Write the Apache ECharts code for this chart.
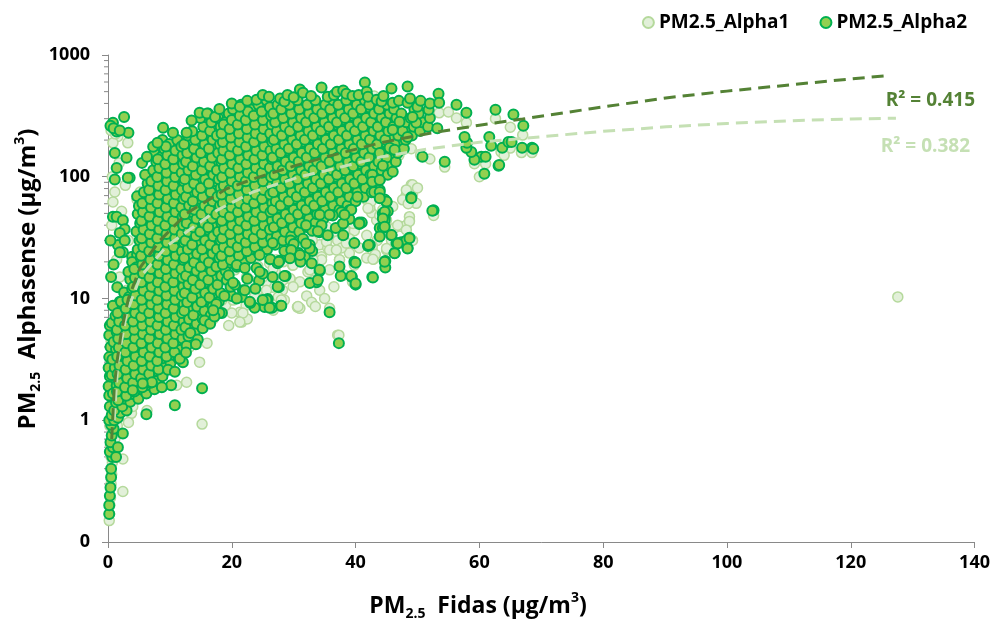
<!DOCTYPE html>
<html>
<head>
<meta charset="utf-8">
<title>PM2.5 Alphasense vs Fidas</title>
<script src="https://cdn.jsdelivr.net/npm/echarts@6.0.0/dist/echarts.min.js"></script>
<style>
  html, body { margin: 0; padding: 0; background: #fff; }
  #chart { width: 993px; height: 620px; }
</style>
</head>
<body>
<div id="chart"></div>
<script>
// names and labels
const seriesNames = ['PM2.5_Alpha1', 'PM2.5_Alpha2'];
const r2Labels = ['R\u00b2 = 0.382', 'R\u00b2 = 0.415'];
const xTicks = [0, 20, 40, 60, 80, 100, 120, 140];
const yTickValues = [0.1, 1, 10, 100, 1000];
const yTickLabels = ['0', '1', '10', '100', '1000'];

// PM2.5_Alpha2 (Fidas x, Alphasense y), region by region
const alpha2Strip = [[0.2,0.17],[0.2,0.2],[0.3,0.24],[0.4,0.28],[0.5,0.34],[0.5,0.4],[0.7,0.5],[0.3,0.55],[0.8,0.6],[0.4,0.66],[0.6,0.75],[1.6,0.6],[1.3,0.5],[0.9,0.85],[0.5,0.92],[0.2,1.0],[1.0,1.0],[0.6,1.1],[0.3,1.3],[2.4,0.78],[0.2,1.6],[0.1,1.9],[0.3,2.3],[0.1,2.7],[0.2,3.3],[0.4,4.0],[0.2,5.0],[0.3,6.0],[1.6,1.05],[2.0,1.15],[3.0,1.2]];
const alpha2Left = [[0.8,278],[1.4,235],[2.6,310],[3.3,230],[0.4,262],[0.9,250],[1.9,240],[1.1,157],[1.4,118],[1.1,95],[3.0,143],[3.5,98],[3.2,98],[0.8,47],[1.4,47],[2.4,44],[2.7,37],[1.9,34.5],[1.6,27.5],[2.4,24],[1.9,24],[2.7,30],[3.9,22],[4.4,18],[3.5,16.5],[1.5,12.4],[1.9,9.4],[4.7,23],[5.6,26.5],[0.5,15],[0.9,19],[0.4,30]];
const alpha2CoreLeft = [
[1.0,1.2],[1.3,1.4],[0.8,1.66],[1.4,1.93],[0.6,2.35],[1.1,2.7],[0.7,3.15],[1.3,3.85],[0.9,4.4],[1.4,5.3],[0.6,6.3],[1.2,7.2],[0.8,8.7],
[2.3,1.3],[2.6,1.5],[2.1,1.8],[2.7,2.1],[1.9,2.5],[2.4,2.95],[2.0,3.45],[2.6,4.1],[2.2,4.95],[2.8,5.7],[1.9,6.8],[2.5,7.9],[2.1,9.4],[2.6,11.2],
[3.6,1.42],[3.9,1.64],[3.4,1.97],[4.0,2.3],[3.2,2.72],[3.7,3.2],[3.3,3.75],[3.9,4.5],[3.5,5.35],[4.0,6.2],[3.2,7.3],[3.8,8.5],[3.4,10.3],[3.9,12],[3.6,14.3],[3.3,16.6],[3.9,19.9],
[4.9,1.5],[5.2,1.8],[4.7,2.1],[5.3,2.5],[4.5,2.95],[5.0,3.5],[4.6,4.1],[5.2,4.85],[4.8,5.8],[5.3,6.7],[4.5,8.0],[5.1,9.3],[4.7,11.2],[5.2,13],[4.9,15.5],[4.6,18.1],[5.3,21.6],[4.8,25.3],[5.1,30],[4.6,35.5],[5.2,41.5],[4.8,49.5],[5.0,57.5],[4.7,69],
[6.2,1.66],[6.5,1.95],[6.0,2.32],[6.6,2.7],[5.8,3.2],[6.3,3.8],[5.9,4.5],[6.5,5.25],[6.1,6.2],[6.6,7.35],[5.8,8.6],[6.4,10.1],[6.0,12.1],[6.5,14.2],[6.2,16.7],[5.9,19.8],[6.6,23.5],[6.1,27.5],[6.4,32.6],[5.9,38.3],[6.5,45.5],[6.1,53.3],[6.3,63.2],[5.8,74.5],[6.4,88],[6.0,104],
[7.5,1.8],[7.8,2.1],[7.3,2.52],[7.9,2.9],[7.1,3.5],[7.6,4.1],[7.2,4.9],[7.8,5.7],[7.4,6.8],[7.9,7.9],[7.1,9.4],[7.7,11.1],[7.3,13.1],[7.8,15.3],[7.5,18.3],[7.2,21.4],[7.9,25.5],[7.4,30.1],[7.7,35.2],[7.2,41.8],[7.8,49],[7.4,58.2],[7.6,68.3],[7.1,81.5],[7.7,95],[7.3,113],[7.8,133],[7.5,156],
[8.8,2.3],[9.1,2.72],[8.6,3.2],[9.2,3.78],[8.4,4.5],[8.9,5.3],[8.5,6.25],[9.1,7.3],[8.7,8.6],[9.2,10.2],[8.4,12.1],[9.0,14.1],[8.6,16.8],[9.1,19.7],[8.8,23.5],[8.5,27.5],[9.2,32.4],[8.7,38.5],[9.0,45.2],[8.5,53.6],[9.1,63],[8.7,74.8],[8.9,87.5],[8.4,104],[9.0,122],[8.6,145],[9.1,169],[8.8,200],
[10.1,2.95],[10.4,3.45],[9.9,4.1],[10.5,4.9],[9.7,5.75],[10.2,6.8],[9.8,7.9],[10.4,9.4],[10.0,11.1],[10.5,12.9],[9.7,15.4],[10.3,18.2],[9.9,21.6],[10.4,25.3],[10.1,30.2],[9.8,35.2],[10.5,41.5],[10.0,49.3],[10.3,58],[9.8,68.8],[10.4,80.5],[10.0,95.5],[10.2,113],[9.7,134],[10.3,157],[9.9,186],
[11.4,3.22],[11.7,3.8],[11.2,4.55],[11.8,5.3],[11.0,6.2],[11.5,7.3],[11.1,8.65],[11.7,10.2],[11.3,12],[11.8,14.3],[11.0,16.8],[11.6,19.7],[11.2,23.4],[11.7,27.7],[11.4,32.5],[11.1,38.3],[11.8,45.4],[11.3,53.4],[11.6,63.1],[11.1,74.4],[11.7,88.2],[11.3,104],[11.5,122],[11.0,144],[11.6,171],[11.2,200]
];
const alpha2CoreMid = [
[12.7,4.1],[13.0,4.9],[12.5,5.8],[13.1,6.75],[12.3,7.95],[12.8,9.3],[12.4,11.1],[13.0,13.1],[12.6,15.4],[13.1,18.1],[12.3,21.5],[12.9,25.4],[12.5,30],[13.0,35.4],[12.7,41.6],[12.4,49.2],[13.1,58.1],[12.6,68.4],[12.9,81],[12.4,95.6],[13.0,113],[12.6,133],[12.8,157],[12.3,185],[12.9,218],
[14.0,5.3],[14.3,6.2],[13.8,7.3],[14.4,8.6],[13.6,10.2],[14.1,12],[13.7,14.2],[14.3,16.9],[13.9,19.8],[14.4,23.3],[13.6,27.6],[14.2,32.6],[13.8,38.4],[14.3,45.2],[14.0,53.5],[13.7,63],[14.4,74.6],[13.9,88],[14.2,104],[13.7,122],[14.3,144],[13.9,170],[14.1,201],[13.6,236],
[15.3,6.8],[15.6,7.9],[15.1,9.35],[15.7,11.1],[14.9,13],[15.4,15.4],[15.0,18.2],[15.6,21.5],[15.2,25.4],[15.7,30],[14.9,35.3],[15.5,41.7],[15.1,49.2],[15.6,58],[15.3,68.5],[15.0,81],[15.7,95.5],[15.2,113],[15.5,133],[15.0,157],[15.6,185],[15.2,218],[15.4,257],[14.9,304],
[16.6,7.3],[16.9,8.6],[16.4,10.2],[17.0,12],[16.2,14.2],[16.7,16.8],[16.3,19.8],[16.9,23.4],[16.5,27.6],[17.0,32.5],[16.2,38.4],[16.8,45.3],[16.4,53.5],[16.9,63],[16.6,74.5],[16.3,88],[17.0,104],[16.5,122],[16.8,144],[16.3,170],[16.9,201],[16.5,237],[16.7,280],[16.2,330],
[17.9,9.4],[18.2,11.1],[17.7,13],[18.3,15.4],[17.5,18.2],[18.0,21.5],[17.6,25.4],[18.2,30],[17.8,35.3],[18.3,41.7],[17.5,49.2],[18.1,58],[17.7,68.5],[18.2,81],[17.9,95.5],[17.6,113],[18.3,133],[17.8,157],[18.1,185],[17.6,218],[18.2,257],[17.8,304],
[19.0,16.8],[19.6,19.8],[18.8,23.4],[19.3,27.6],[18.9,32.5],[19.5,38.4],[19.1,45.3],[19.6,53.5],[18.8,63],[19.4,74.5],[19.0,88],[19.5,104],[19.2,122],[18.9,144],[19.6,170],[19.1,201],[19.4,237],[18.9,280],[19.5,330],
[20.8,18.2],[20.3,21.5],[20.9,25.4],[20.1,30],[20.6,35.3],[20.2,41.7],[20.8,49.2],[20.4,58],[20.9,68.5],[20.1,81],[20.7,95.5],[20.3,113],[20.8,133],[20.5,157],[20.2,185],[20.9,218],[20.4,257],[20.7,304],[20.2,358],
[22.1,19.8],[21.6,23.4],[22.2,27.6],[21.4,32.5],[21.9,38.4],[21.5,45.3],[22.1,53.5],[21.7,63],[22.2,74.5],[21.4,88],[22.0,104],[21.6,122],[22.1,144],[21.8,170],[21.5,201],[22.2,237],[21.7,280],[22.0,330],[21.5,390],
[23.1,21.5],[23.4,25.4],[22.9,30],[23.5,35.3],[22.7,41.7],[23.2,49.2],[22.8,58],[23.4,68.5],[23.0,81],[23.5,95.5],[22.7,113],[23.3,133],[22.9,157],[23.4,185],[23.1,218],[22.8,257],[23.5,304],[23.0,358],
[24.4,23.4],[24.7,27.6],[24.2,32.5],[24.8,38.4],[24.0,45.3],[24.5,53.5],[24.1,63],[24.7,74.5],[24.3,88],[24.8,104],[24.0,122],[24.6,144],[24.2,170],[24.7,201],[24.4,237],[24.1,280],[24.8,330],[24.3,390],
[25.7,25.4],[26.0,30],[25.5,35.3],[26.1,41.7],[25.3,49.2],[25.8,58],[25.4,68.5],[26.0,81],[25.6,95.5],[26.1,113],[25.3,133],[25.9,157],[25.5,185],[26.0,218],[25.7,257],[25.4,304],[26.1,358],[25.6,424]
];
const alpha2CoreRight = [
[27.0,27.6],[27.3,32.5],[26.8,38.4],[27.4,45.3],[26.6,53.5],[27.1,63],[26.7,74.5],[27.3,88],[26.9,104],[27.4,122],[26.6,144],[27.2,170],[26.8,201],[27.3,237],[27.0,280],[26.7,330],[27.4,390],
[28.3,30],[28.6,35.3],[28.1,41.7],[28.7,49.2],[27.9,58],[28.4,68.5],[28.0,81],[28.6,95.5],[28.2,113],[28.7,133],[27.9,157],[28.5,185],[28.1,218],[28.6,257],[28.3,304],[28.0,358],[28.7,424],
[29.6,32.5],[29.9,38.4],[29.4,45.3],[30.0,53.5],[29.2,63],[29.7,74.5],[29.3,88],[29.9,104],[29.5,122],[30.0,144],[29.2,170],[29.8,201],[29.4,237],[29.9,280],[29.6,330],[29.3,390],
[30.9,35.3],[31.2,41.7],[30.7,49.2],[31.3,58],[30.5,68.5],[31.0,81],[30.6,95.5],[31.2,113],[30.8,133],[31.3,157],[30.5,185],[31.1,218],[30.7,257],[31.2,304],[30.9,358],[30.6,424],
[32.2,38.4],[32.5,45.3],[32.0,53.5],[32.6,63],[31.8,74.5],[32.3,88],[31.9,104],[32.5,122],[32.1,144],[32.6,170],[31.8,201],[32.4,237],[32.0,280],[32.5,330],[32.2,390],
[33.5,41.7],[33.8,49.2],[33.3,58],[33.9,68.5],[33.1,81],[33.6,95.5],[33.2,113],[33.8,133],[33.4,157],[33.9,185],[33.1,218],[33.7,257],[33.3,304],[33.8,358],[33.5,424],
[34.8,45.3],[35.1,53.5],[34.6,63],[35.2,74.5],[34.4,88],[34.9,104],[34.5,122],[35.1,144],[34.7,170],[35.2,201],[34.4,237],[35.0,280],[34.6,330],[35.1,390],
[36.1,49.2],[36.4,58],[35.9,68.5],[36.5,81],[35.7,95.5],[36.2,113],[35.8,133],[36.4,157],[36.0,185],[36.5,218],[35.7,257],[36.3,304],[35.9,358],[36.4,424],
[37.4,53.5],[37.7,63],[37.2,74.5],[37.8,88],[37.0,104],[37.5,122],[37.1,144],[37.7,170],[37.3,201],[37.8,237],[37.0,280],[37.6,330],[37.2,390],
[38.7,58],[39.0,68.5],[38.5,81],[39.1,95.5],[38.3,113],[38.8,133],[38.4,157],[39.0,185],[38.6,218],[39.1,257],[38.3,304],[38.9,358],[38.5,424],
[40.0,63],[40.3,74.5],[39.8,88],[40.4,104],[39.6,122],[40.1,144],[39.7,170],[40.3,201],[39.9,237],[40.4,280],[39.6,330],[40.2,390],
[41.3,68.5],[41.6,81],[41.1,95.5],[41.7,113],[40.9,133],[41.4,157],[41.0,185],[41.6,218],[41.2,257],[41.7,304],[40.9,358],[41.5,424],
[42.6,74.5],[42.9,88],[42.4,104],[43.0,122],[42.2,144],[42.7,170],[42.3,201],[42.9,237],[42.5,280],[43.0,330],[42.2,390],
[43.9,95.5],[44.2,113],[43.7,133],[44.3,157],[43.5,185],[44.0,218],[43.6,257],[44.2,304],[43.8,358],
[45.2,104],[45.5,122],[45.0,144],[45.6,170],[44.8,201],[45.3,237],[44.9,280],[45.5,330],[45.1,390],
[46.5,133],[46.8,157],[46.3,185],[46.9,218],[46.1,257],[46.6,304],[46.2,358],
[47.8,170],[48.1,201],[47.6,237],[48.2,280],[47.4,330],
[49.1,218],[49.4,257],[48.9,304],[49.5,358],
[50.4,237],[50.7,280],[50.2,330],
[51.7,257],[52.0,304]
];
const alpha2MidLeft = [
[1.65,1.46],[1.45,1.72],[1.8,2.03],[1.55,2.4],[1.85,2.82],[1.5,3.34],[1.75,3.96],[1.65,4.69],[1.45,5.53],[1.8,6.47],[1.55,7.61],
[2.95,1.59],[2.75,1.87],[3.1,2.21],[2.85,2.61],[3.15,3.06],[2.8,3.62],[3.05,4.28],[2.95,5.11],[2.75,6.0],[3.1,7.04],[2.85,8.29],[3.15,9.75],
[4.25,1.72],[4.05,2.03],[4.4,2.4],[4.15,2.82],[4.45,3.34],[4.1,3.96],[4.35,4.69],[4.25,5.53],[4.05,6.47],[4.4,7.61],[4.15,8.97],[4.45,10.6],[4.1,12.5],[4.35,14.8],[4.25,17.5],
[5.55,1.87],[5.35,2.21],[5.7,2.61],[5.45,3.06],[5.75,3.62],[5.4,4.28],[5.65,5.11],[5.55,6.0],[5.35,7.04],[5.7,8.29],[5.45,9.75],[5.75,11.6],[5.4,13.6],[5.65,16.1],[5.55,19],[5.35,22.4],[5.7,26.5],[5.45,31.3],[5.75,36.8],[5.4,43.5],[5.65,51.3],[5.55,60.5],
[6.85,2.03],[6.65,2.4],[7.0,2.82],[6.75,3.34],[7.05,3.96],[6.7,4.69],[6.95,5.53],[6.85,6.47],[6.65,7.61],[7.0,8.97],[6.75,10.6],[7.05,12.5],[6.7,14.8],[6.95,17.5],[6.85,20.7],[6.65,24.4],[7.0,28.8],[6.75,33.9],[7.05,40],[6.7,47.2],[6.95,55.8],[6.85,65.7],[6.65,77.7],[7.0,91.8],
[8.15,2.61],[7.95,3.06],[8.3,3.62],[8.05,4.28],[8.35,5.11],[8.0,6.0],[8.25,7.04],[8.15,8.29],[7.95,9.75],[8.3,11.6],[8.05,13.6],[8.35,16.1],[8.0,19],[8.25,22.4],[8.15,26.5],[7.95,31.3],[8.3,36.8],[8.05,43.5],[8.35,51.3],[8.0,60.5],[8.25,71.4],[8.15,84.5],[7.95,99.6],[8.3,118],[8.05,139],
[9.45,3.34],[9.25,3.96],[9.6,4.69],[9.35,5.53],[9.65,6.47],[9.3,7.61],[9.55,8.97],[9.45,10.6],[9.25,12.5],[9.6,14.8],[9.35,17.5],[9.65,20.7],[9.3,24.4],[9.55,28.8],[9.45,33.9],[9.25,40],[9.6,47.2],[9.35,55.8],[9.65,65.7],[9.3,77.7],[9.55,91.8],[9.45,108],[9.25,127],[9.6,150],[9.35,177],
[10.75,3.62],[10.55,4.28],[10.9,5.11],[10.65,6.0],[10.95,7.04],[10.6,8.29],[10.85,9.75],[10.75,11.6],[10.55,13.6],[10.9,16.1],[10.65,19],[10.95,22.4],[10.6,26.5],[10.85,31.3],[10.75,36.8],[10.55,43.5],[10.9,51.3],[10.65,60.5],[10.95,71.4],[10.6,84.5],[10.85,99.6],[10.75,118],[10.55,139],[10.9,164],
[12.05,4.69],[11.85,5.53],[12.2,6.47],[11.95,7.61],[12.25,8.97],[11.9,10.6],[12.15,12.5],[12.05,14.8],[11.85,17.5],[12.2,20.7],[11.95,24.4],[12.25,28.8],[11.9,33.9],[12.15,40],[12.05,47.2],[11.85,55.8],[12.2,65.7],[11.95,77.7],[12.25,91.8],[11.9,108],[12.15,127],[12.05,150],[11.85,177],
[13.35,6.0],[13.15,7.04],[13.5,8.29],[13.25,9.75],[13.55,11.6],[13.2,13.6],[13.45,16.1],[13.35,19],[13.15,22.4],[13.5,26.5],[13.25,31.3],[13.55,36.8],[13.2,43.5],[13.45,51.3],[13.35,60.5],[13.15,71.4],[13.5,84.5],[13.25,99.6],[13.55,118],[13.2,139],[13.45,164],[13.35,193],
[14.65,7.61],[14.45,8.97],[14.8,10.6],[14.55,12.5],[14.85,14.8],[14.5,17.5],[14.75,20.7],[14.65,24.4],[14.45,28.8],[14.8,33.9],[14.55,40],[14.85,47.2],[14.5,55.8],[14.75,65.7],[14.65,77.7],[14.45,91.8],[14.8,108],[14.55,127],[14.85,150],[14.5,177],[14.75,210],
[15.95,8.29],[15.75,9.75],[16.1,11.6],[15.85,13.6],[16.15,16.1],[15.8,19],[16.05,22.4],[15.95,26.5],[15.75,31.3],[16.1,36.8],[15.85,43.5],[16.15,51.3],[15.8,60.5],[16.05,71.4],[15.95,84.5],[15.75,99.6],[16.1,118],[15.85,139],[16.15,164],[15.8,193],[16.05,227],[15.95,268],
[17.25,10.6],[17.05,12.5],[17.4,14.8],[17.15,17.5],[17.45,20.7],[17.1,24.4],[17.35,28.8],[17.25,33.9],[17.05,40],[17.4,47.2],[17.15,55.8],[17.45,65.7],[17.1,77.7],[17.35,91.8],[17.25,108],[17.05,127],[17.4,150],[17.15,177],[17.45,210],[17.1,247],[17.35,292]
];
const alpha2MidRight = [
[18.55,19],[18.35,22.4],[18.7,26.5],[18.45,31.3],[18.75,36.8],[18.4,43.5],[18.65,51.3],[18.55,60.5],[18.35,71.4],[18.7,84.5],[18.45,99.6],[18.75,118],[18.4,139],[18.65,164],[18.55,193],[18.35,227],[18.7,268],
[19.85,20.7],[19.65,24.4],[20.0,28.8],[19.75,33.9],[20.05,40],[19.7,47.2],[19.95,55.8],[19.85,65.7],[19.65,77.7],[20.0,91.8],[19.75,108],[20.05,127],[19.7,150],[19.95,177],[19.85,210],[19.65,247],[20.0,292],
[21.15,22.4],[20.95,26.5],[21.3,31.3],[21.05,36.8],[21.35,43.5],[21.0,51.3],[21.25,60.5],[21.15,71.4],[20.95,84.5],[21.3,99.6],[21.05,118],[21.35,139],[21.0,164],[21.25,193],[21.15,227],[20.95,268],[21.3,317],
[22.45,24.4],[22.25,28.8],[22.6,33.9],[22.35,40],[22.65,47.2],[22.3,55.8],[22.55,65.7],[22.45,77.7],[22.25,91.8],[22.6,108],[22.35,127],[22.65,150],[22.3,177],[22.55,210],[22.45,247],[22.25,292],[22.6,344],
[23.75,26.5],[23.55,31.3],[23.9,36.8],[23.65,43.5],[23.95,51.3],[23.6,60.5],[23.85,71.4],[23.75,84.5],[23.55,99.6],[23.9,118],[23.65,139],[23.95,164],[23.6,193],[23.85,227],[23.75,268],[23.55,317],
[25.05,28.8],[24.85,33.9],[25.2,40],[24.95,47.2],[25.25,55.8],[24.9,65.7],[25.15,77.7],[25.05,91.8],[24.85,108],[25.2,127],[24.95,150],[25.25,177],[24.9,210],[25.15,247],[25.05,292],[24.85,344],
[26.35,31.3],[26.15,36.8],[26.5,43.5],[26.25,51.3],[26.55,60.5],[26.2,71.4],[26.45,84.5],[26.35,99.6],[26.15,118],[26.5,139],[26.25,164],[26.55,193],[26.2,227],[26.45,268],[26.35,317],[26.15,373],
[27.65,33.9],[27.45,40],[27.8,47.2],[27.55,55.8],[27.85,65.7],[27.5,77.7],[27.75,91.8],[27.65,108],[27.45,127],[27.8,150],[27.55,177],[27.85,210],[27.5,247],[27.75,292],[27.65,344],
[28.95,36.8],[28.75,43.5],[29.1,51.3],[28.85,60.5],[29.15,71.4],[28.8,84.5],[29.05,99.6],[28.95,118],[28.75,139],[29.1,164],[28.85,193],[29.15,227],[28.8,268],[29.05,317],[28.95,373],
[30.25,40],[30.05,47.2],[30.4,55.8],[30.15,65.7],[30.45,77.7],[30.1,91.8],[30.35,108],[30.25,127],[30.05,150],[30.4,177],[30.15,210],[30.45,247],[30.1,292],[30.35,344],
[31.55,43.5],[31.35,51.3],[31.7,60.5],[31.45,71.4],[31.75,84.5],[31.4,99.6],[31.65,118],[31.55,139],[31.35,164],[31.7,193],[31.45,227],[31.75,268],[31.4,317],[31.65,373],
[32.85,47.2],[32.65,55.8],[33.0,65.7],[32.75,77.7],[33.05,91.8],[32.7,108],[32.95,127],[32.85,150],[32.65,177],[33.0,210],[32.75,247],[33.05,292],[32.7,344],
[34.15,51.3],[33.95,60.5],[34.3,71.4],[34.05,84.5],[34.35,99.6],[34.0,118],[34.25,139],[34.15,164],[33.95,193],[34.3,227],[34.05,268],[34.35,317],[34.0,373],
[35.45,55.8],[35.25,65.7],[35.6,77.7],[35.35,91.8],[35.65,108],[35.3,127],[35.55,150],[35.45,177],[35.25,210],[35.6,247],[35.35,292],[35.65,344],
[36.75,60.5],[36.55,71.4],[36.9,84.5],[36.65,99.6],[36.95,118],[36.6,139],[36.85,164],[36.75,193],[36.55,227],[36.9,268],[36.65,317],[36.95,373],
[38.05,65.7],[37.85,77.7],[38.2,91.8],[37.95,108],[38.25,127],[37.9,150],[38.15,177],[38.05,210],[37.85,247],[38.2,292],[37.95,344],
[39.35,71.4],[39.15,84.5],[39.5,99.6],[39.25,118],[39.55,139],[39.2,164],[39.45,193],[39.35,227],[39.15,268],[39.5,317],[39.25,373],
[40.65,77.7],[40.45,91.8],[40.8,108],[40.55,127],[40.85,150],[40.5,177],[40.75,210],[40.65,247],[40.45,292],[40.8,344],
[41.95,84.5],[41.75,99.6],[42.1,118],[41.85,139],[42.15,164],[41.8,193],[42.05,227],[41.95,268],[41.75,317],[42.1,373],
[43.25,108],[43.05,127],[43.4,150],[43.15,177],[43.45,210],[43.1,247],[43.35,292],[43.25,344],
[44.55,118],[44.35,139],[44.7,164],[44.45,193],[44.75,227],[44.4,268],[44.65,317],
[45.85,150],[45.65,177],[46.0,210],[45.75,247],[46.05,292],[45.7,344],
[47.15,193],[46.95,227],[47.3,268],[47.05,317],
[48.45,247],[48.25,292],[49.75,268],[49.55,317]
];
const alpha2Top = [[5.5,130],[6.3,146],[7.3,176],[8.0,190],[8.9,253],[10.5,230],[12.7,230],[13.5,290],[14.8,335],[16.0,330],[17.3,310],[18.0,360],[20.0,400],[21.3,375],[22.5,420],[24.0,430],[25.0,470],[26.0,455],[27.8,440],[28.5,415],[29.0,470],[30.0,450],[31.0,520],[31.5,490],[32.8,460],[34.5,540],[35.5,455],[36.5,470],[37.0,500],[38.0,510],[38.5,480],[39.5,460],[40.5,470],[41.5,594],[41.8,500],[42.0,455],[43.4,430],[44.2,415],[44.5,460],[45.8,530],[46.0,405],[47.0,420],[48.4,550],[48.4,405],[48.8,440],[50.0,375],[50.5,420],[51.8,355],[52.0,400],[53.4,480],[53.5,405],[56.3,390],[57.9,335],[62.6,355],[65.5,325],[67.1,262],[53.2,250],[49.8,278],[49.2,310],[47.1,283],[48.4,212],[46.0,243]];
const alpha2Right = [[68.5,173],[66.9,173],[63.7,173],[64.7,193],[61.6,212],[61.9,180],[63.1,123],[60.8,106],[60.3,146],[61.0,146],[59.2,138],[58.7,160],[57.9,173],[58.0,190],[57.6,212],[54.4,133],[50.8,146],[63.2,125],[65.2,193],[68.7,170],[45.5,173],[43.9,157],[46.3,167],[44.4,123],[46.0,110],[42.7,104],[42.7,91],[43.9,94],[43.9,78],[43.0,75],[49.0,68],[52.6,53],[52.4,52.5],[44.7,65],[45.2,52],[44.4,50],[44.7,46],[43.9,38],[45.8,33],[47.4,29],[48.7,31.5],[48.4,26],[46.3,23.6],[42.3,27.5],[41.0,42],[40.6,42],[45.0,62],[44.7,51],[43.9,75]];
const alpha2Fringe = [[40.6,41],[38.6,46],[37.9,41],[39.0,45],[39.0,53],[37.7,51],[36.3,48],[34.2,35],[32.6,27.5],[33.0,24.5],[31.8,22],[32.9,19.5],[34.2,16.8],[33.7,13.6],[32.6,13.4],[30.8,23.6],[31.1,20],[29.7,26],[28.7,15.3],[27.4,19.5],[27.6,12.4],[26.6,15],[25.8,9.9],[26.5,8.4],[27.9,8.7],[25.3,8.5],[23.7,8.4],[23.0,9.2],[21.8,11.7],[21.6,10.3],[20.0,10.5],[18.4,7.6],[19.2,14.2],[20.8,18.8],[22.1,17.8],[24.4,14],[24.0,17.8],[24.5,22.8],[26.6,28.6],[27.7,20.4],[29.5,30],[39.8,28.5],[39.8,20],[39.4,15],[40.0,13],[37.6,15.3],[35.8,7.7],[37.3,4.3],[42.0,27],[44.8,20.3],[44.8,18],[42.7,15],[48.2,30],[46.6,28.5],[44.4,38],[44.7,44],[28.0,8.7],[25.6,9.7],[6.2,1.12],[10.8,1.33],[15.2,1.83],[12.1,3.0],[11.6,3.2],[12.6,3.6],[9.7,2.6],[10.2,1.94],[8.7,1.87],[7.1,2.05],[5.6,2.0],[4.0,1.76],[10.8,2.5],[15.3,5.7],[15.6,6.6],[18.0,7.6],[13.3,5.2],[16.5,6.2],[14.5,4.6],[17.2,7.1],[18.8,10.5],[17.5,9.0],[19.8,12.5],[22.5,14.5],[23.8,12.0],[25.0,16.0],[26.2,21.0],[28.5,24.5],[30.0,28.0],[31.5,31.0],[33.0,36.0],[34.5,40.0],[35.5,33.0],[36.8,38.0],[38.0,33.0],[20.5,13.0],[17.0,8.0],[14.2,4.2],
[49.0,66.7],[45.0,62.6],[44.7,51.5],[44.4,45.5],[44.7,38.9],[45.8,33.2],[43.9,32.3],[46.8,28.3],[48.4,25.8],[48.7,31.2],[46.3,23.5],[44.7,20],[42.8,14.9],[42.1,27.5],[40.0,19.7],[39.3,15.3],[40.0,13.3],[40.6,41.4],[38.0,41.4],[39.3,53.5],[38.2,48.7],[37.4,18.3],[32.6,25.8],[31.0,22.8],[34.2,17.2],[33.9,14.2],[27.6,20],[27.4,12.5],[28.5,15.3],[24.5,16.6],[22.1,11.7],[22.9,9.4],[25.0,9.7],[26.1,8.4],[20.8,10],[29.6,25],[29.4,21.4],[32.0,28.3],[34.2,48.7],[35.8,48.7],[32.0,40],[33.9,35.6],[40.3,68.5],[43.9,66.7],[19.5,15.5],[20.2,13.5]];

// PM2.5_Alpha1
const alpha1Strip = [[0.2,0.15],[0.25,0.17],[0.3,0.2],[0.4,0.23],[0.5,0.3],[0.6,0.36],[0.7,0.45],[0.5,0.5],[0.9,0.55],[0.4,0.62],[1.1,0.7],[0.8,0.8],[2.4,0.26],[2.4,0.48],[1.5,0.9],[0.3,0.9],[1.8,1.1],[0.6,1.2],[2.7,1.38],[3.8,1.14],[3.3,0.96],[6.3,1.2],[4.0,1.3],[1.2,1.5],[0.4,1.8],[2.2,2.0],[0.9,2.6],[1.5,3.5],[0.5,4.5],[2.0,6.0]];
const alpha1Left = [[1.1,75],[0.8,62],[1.6,214],[3.2,190],[0.8,190],[0.5,240],[1.2,225],[5.2,75],[4.7,65],[1.4,20.8],[1.9,15],[3.0,11.7],[0.6,40],[2.2,52],[3.3,30],[2.8,85],[1.8,130],[0.7,100]];
const alpha1Lower = [[31.0,20.8],[34.2,27.6],[36.3,36.6],[37.9,29.2],[39.0,23.6],[41.8,33],[42.7,25],[42.9,21],[43.4,44],[42.6,50.6],[41.8,64.6],[48.7,44],[47.4,39],[48.2,71],[49.0,86],[45.0,25],[37.4,20.8],[35.8,17.2],[30.6,8.5],[21.3,7.7],[21.6,6.4],[20.0,7.6],[24.5,11],[28.2,11.7],[32.3,16.5],[37.1,5.0],[29.4,22],[26.1,19.5],[22.9,14.2],[26.6,12.4],[28.2,15],[41.8,21.5],[39.8,18.8],[38.2,15.6],[39.5,13.7],[34.2,11.7],[32.1,10.5],[33.4,14.2],[30.3,13.4],[25.2,9.7],[23.7,10.7],[28.5,9.7],[22.3,8.8],[19.0,8.8],[18.4,9.7],[31.0,8.3],[32.9,9.3],[25.8,15.3],[24.2,18.5],[29.8,18.8],[34.5,22],[40.6,26],[45.8,30],[46.3,38],[44.7,35],[18.0,11],[20.2,9.7],[25.5,10.5],[27.5,10.3],[16.0,4.3],[14.8,3.0],[15.2,0.93],[12.7,2.05],[11.1,1.94],[12.9,5.0],[13.2,4.0],[35.8,8.3],[37.3,5.0],[27.0,17.0],[30.5,25.0],[33.0,30.0],[35.5,26.0],[38.5,36.0],[40.0,40.0],[43.5,30.0],[36.5,12.5],[35.0,10.0],[33.5,8.6],[23.0,12.5],[21.0,11.0],[17.0,6.8],[19.5,6.0],[22.5,6.8],[42.3,55.6],[43.9,48],[48.7,47],[48.2,40],[39.8,36],[39.0,31],[37.1,30],[37.7,26],[42.7,27],[43.2,23],[52.6,48],
[42.5,62.6],[42.0,55],[45.0,44],[46.8,40],[48.7,43],[48.2,36.6],[49.2,30],[45.0,25.8],[42.8,21],[39.6,41.4],[38.2,36.6],[36.6,35.6],[35.3,39],[34.7,44],[35.3,29.3],[38.5,28.5],[35.8,25],[36.9,25],[37.4,20.8],[34.5,20.8],[33.1,20.8],[31.2,22.8],[30.4,27.5],[31.0,32.3],[29.9,18.8],[28.3,20],[27.2,20.8],[26.7,17.7],[29.4,14.6],[31.0,13.7],[29.9,12.5],[28.3,14.2],[25.6,13.7],[25.6,11.7],[25.0,15],[22.9,12.9],[22.4,15],[23.7,10.4],[25.9,9.4],[28.0,9.7],[30.7,8.6],[26.7,8],[21.8,7.6],[21.3,6.4],[20.2,11.7],[19.7,20.8],[20.5,17.2],[32.6,17.2],[44.4,53.5],[46.0,57],[49.2,71],[49.8,60.5],[47.6,64.6]];
const alpha1Right = [[49.2,86],[50.0,81],[48.2,78],[56.3,304],[57.9,278],[62.6,300],[65.0,255],[67.0,220],[66.8,158],[60.5,140],[59.2,128],[61.0,128],[54.4,120],[52.0,140],[53.4,420],[53.5,335],[50.5,150],[47.0,175],[63.5,160],[65.0,172],[68.5,158],[60.0,100],[58.0,170],[45.5,155],[43.5,88],[37.0,430],[38.0,440],[43.0,460],[21.0,320],[25.5,370],[28.5,380],[51.5,320],[55.0,340],[64.0,150],[48.5,60]];
const alpha1Under = [[5,3],[6,8],[7,20],[8,45],[9,90],[10,5],[11,15],[12,35],[13,70],[14,140],[15,10],[16,25],[17,60],[18,120],[19,220],[20,18],[21,40],[22,90],[23,180],[24,300],[25,30],[26,65],[27,130],[28,250],[29,45],[30,100],[31,200],[32,350],[33,60],[34,120],[35,250],[36,80],[37,160],[38,320],[39,110],[40,220],[41,380],[42,150],[43,280],[44,120],[45,200],[46,330],[47,150],[48,260],[49,170],[3,5],[4,12],[2,3],[1.5,2],[7,60],[9,150],[12,180],[16,200],[20,260],[26,330],[31,400]];
const alpha1Outlier = [[127.6,10.3]];

// trend lines, sampled along the dashed curves
const trend1X = [1.0, 1.6, 3.0, 5.2, 9.5, 17.6, 23.4, 31.0, 35.8, 44, 52, 60, 70.8, 80, 90.2, 100, 111.6, 120, 127.3];
const trend1Y = [1.0, 3.0, 7.6, 15, 27, 53, 75, 100, 114, 145, 170, 192, 215, 236, 257, 274, 290, 298, 303];
const trend2X = [0.6, 1.0, 1.4, 2.2, 3.3, 5.2, 8.4, 12.7, 19.2, 24, 30.4, 35.8, 44, 52, 60, 67, 78, 90.1, 100, 108.9, 117, 126.1];
const trend2Y = [0.7, 1.8, 2.9, 5.5, 10, 18, 30, 50, 80, 98, 124, 148, 190, 228, 265, 298, 362, 444, 505, 560, 615, 678];

const FONT = "'Open Sans', 'Liberation Sans', sans-serif";
const AXIS_COLOR = '#898989';

const alpha1Data = [].concat(alpha1Under, alpha1Strip, alpha1Left, alpha1Lower, alpha1Right, alpha1Outlier);
const alpha2Data = [].concat(alpha2Strip, alpha2Left, alpha2CoreLeft, alpha2MidLeft, alpha2CoreMid, alpha2MidRight, alpha2CoreRight, alpha2Top, alpha2Right, alpha2Fringe);

// log minor ticks 2..9 in each decade
const minorTickValues = [];
[0.1, 1, 10, 100].forEach(d => {
  for (let k = 2; k <= 9; k++) minorTickValues.push(+(d * k).toPrecision(3));
});

function titleRich(size) {
  return {
    b: { fontFamily: FONT, fontWeight: 'bold', fontSize: size, lineHeight: 30, color: '#000' },
    sub: { fontFamily: FONT, fontWeight: 'bold', fontSize: 14, lineHeight: 14, verticalAlign: 'bottom', color: '#000' },
    sup: { fontFamily: FONT, fontWeight: 'bold', fontSize: 14, lineHeight: 14, verticalAlign: 'top', color: '#000' }
  };
}

let chart = echarts.init(document.getElementById('chart'));

let option = {
  animation: false,
  backgroundColor: '#fff',
  textStyle: { fontFamily: FONT },
  grid: { left: 108, right: 17, top: 55, bottom: 78, containLabel: false },
  legend: {
    data: seriesNames,
    top: 8,
    right: 21,
    itemGap: 30,
    itemWidth: 11,
    itemHeight: 11,
    icon: 'circle',
    textStyle: { fontFamily: FONT, fontWeight: 'bold', fontSize: 19, color: '#000' }
  },
  xAxis: {
    type: 'value',
    min: xTicks[0],
    max: xTicks[xTicks.length - 1],
    interval: xTicks[1] - xTicks[0],
    axisLine: { onZero: false, lineStyle: { color: AXIS_COLOR, width: 1 } },
    axisTick: { show: true, length: 6, lineStyle: { color: AXIS_COLOR } },
    axisLabel: { fontFamily: FONT, fontSize: 18, fontWeight: 'bold', color: '#000', margin: 12 },
    splitLine: { show: false }
  },
  yAxis: {
    type: 'log',
    logBase: 10,
    min: yTickValues[0],
    max: yTickValues[yTickValues.length - 1],
    axisLine: { show: true, lineStyle: { color: AXIS_COLOR, width: 1 } },
    axisTick: { show: true, length: 6, lineStyle: { color: AXIS_COLOR } },
    axisLabel: {
      fontFamily: FONT, fontSize: 18, fontWeight: 'bold', color: '#000', margin: 18,
      formatter: function (v) {
        let i = yTickValues.findIndex(t => Math.abs(Math.log10(t) - Math.log10(v)) < 1e-6);
        return i >= 0 ? yTickLabels[i] : '';
      }
    },
    splitLine: { show: false }
  },
  graphic: [
    {
      type: 'text', x: 478, y: 606,
      style: {
        text: '{b|PM}{sub|2.5}{b|  Fidas (\u00b5g/m}{sup|3}{b|)}',
        rich: titleRich(23), align: 'center', verticalAlign: 'middle'
      }
    },
    {
      type: 'text', x: 28, y: 279, rotation: Math.PI / 2,
      style: {
        text: '{b|PM}{sub|2.5}{b|  Alphasense (\u00b5g/m}{sup|3}{b|)}',
        rich: titleRich(24), align: 'center', verticalAlign: 'middle'
      }
    },
    {
      type: 'text', x: 975, y: 101,
      style: { text: r2Labels[1], fill: '#548235', font: 'bold 19px ' + FONT, align: 'right', verticalAlign: 'middle' }
    },
    {
      type: 'text', x: 970, y: 147,
      style: { text: r2Labels[0], fill: '#C5E0B4', font: 'bold 19px ' + FONT, align: 'right', verticalAlign: 'middle' }
    }
  ],
  series: [
    {
      type: 'custom',
      silent: true,
      clip: false,
      data: minorTickValues.map(v => [0, v]),
      renderItem: function (params, api) {
        let p = api.coord([0, api.value(1)]);
        return {
          type: 'line',
          shape: { x1: p[0] - 4, y1: p[1], x2: p[0], y2: p[1] },
          style: { stroke: AXIS_COLOR, lineWidth: 1 }
        };
      },
      z: 1
    },
    {
      name: seriesNames[0],
      type: 'scatter',
      data: alpha1Data,
      symbolSize: 10,
      itemStyle: { color: '#E2F0D9', borderColor: '#B5D99C', borderWidth: 1.5, opacity: 1 },
      z: 2
    },
    {
      name: seriesNames[1],
      type: 'scatter',
      data: alpha2Data,
      symbolSize: 10,
      itemStyle: { color: '#92D050', borderColor: '#00B050', borderWidth: 2, opacity: 1 },
      z: 3
    },
    {
      name: 'trend1',
      type: 'line',
      data: trend1X.map((x, i) => [x, trend1Y[i]]),
      showSymbol: false,
      smooth: false,
      silent: true,
      lineStyle: { color: '#C5E0B4', width: 3, type: [12, 7] },
      z: 4
    },
    {
      name: 'trend2',
      type: 'line',
      data: trend2X.map((x, i) => [x, trend2Y[i]]),
      showSymbol: false,
      smooth: false,
      silent: true,
      lineStyle: { color: '#548235', width: 3, type: [12, 7] },
      z: 5
    }
  ]
};

chart.setOption(option);
window.addEventListener('resize', () => chart.resize());
</script>
</body>
</html>
